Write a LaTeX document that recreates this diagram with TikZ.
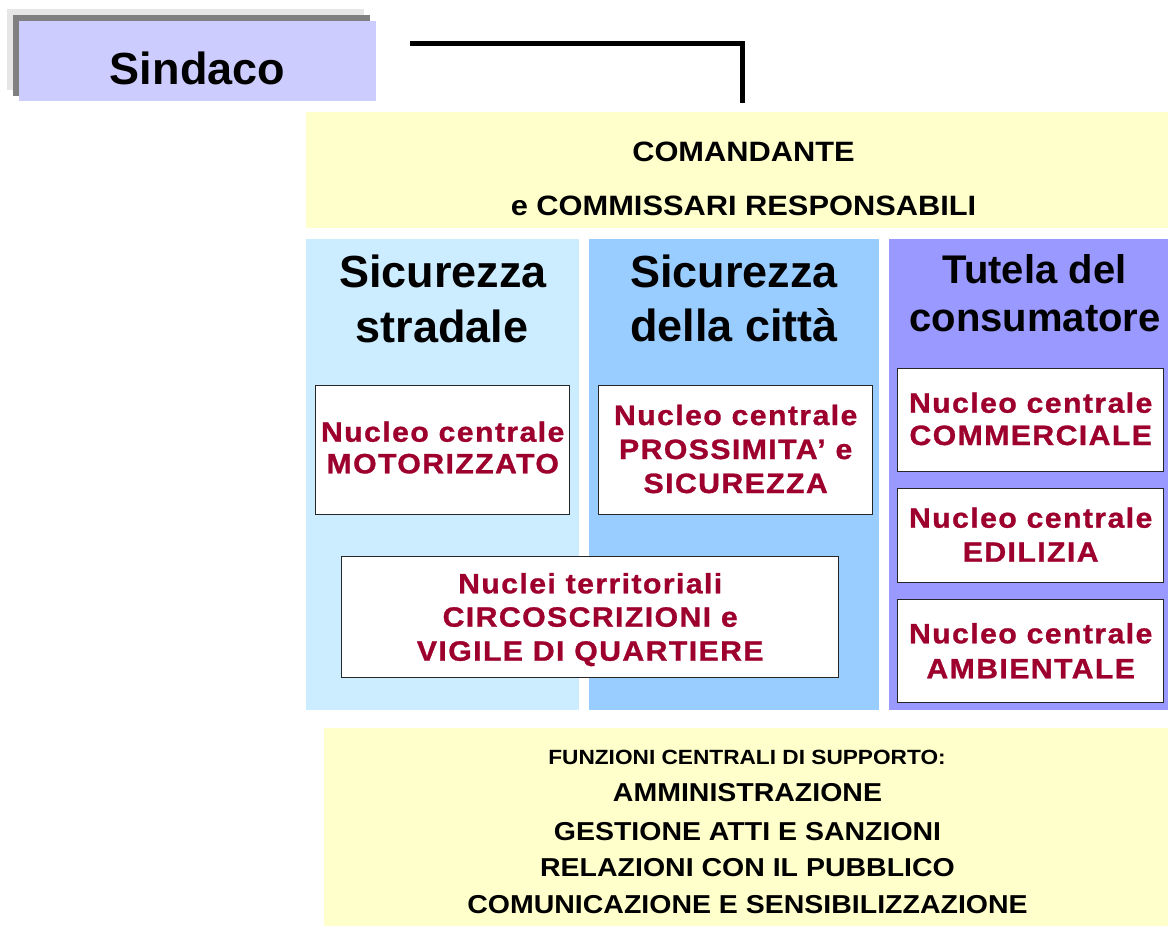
\documentclass[tikz,border=0pt]{standalone}
\usepackage{fontspec}
\setmainfont{Liberation Sans}
\newfontfamily\wideb{Liberation Sans Bold}[FakeStretch=1.1]
\newfontfamily\redb{Liberation Sans Bold}[FakeStretch=1.08,LetterSpace=5,FakeBold=1]
\definecolor{lav}{HTML}{CCCCFF}
\definecolor{shlight}{HTML}{E6E6E6}
\definecolor{shdark}{HTML}{808080}
\definecolor{ylw}{HTML}{FFFFCC}
\definecolor{cblue}{HTML}{CCECFF}
\definecolor{mblue}{HTML}{99CCFF}
\definecolor{purp}{HTML}{9999FF}
\definecolor{nred}{HTML}{9E002E}
\tikzset{
  panel/.style={draw=none, inner sep=0pt, outer sep=0pt, anchor=north west},
  wbox/.style={draw=black!85, line width=1pt, fill=white, inner sep=0pt, outer sep=0pt, anchor=north west},
  title/.style={anchor=base, inner sep=0pt, font=\bfseries\fontsize{45}{54}\selectfont},
  titlesm/.style={anchor=base, inner sep=0pt, font=\bfseries\fontsize{40}{48}\selectfont},
  redtxt/.style={anchor=base, inner sep=0pt, text=nred, xshift=0.7pt, font=\redb\fontsize{28}{30}\selectfont},
  ytxt/.style={anchor=base, inner sep=0pt, font=\wideb\fontsize{28}{32}\selectfont},
  ytxtb/.style={anchor=base, inner sep=0pt, font=\wideb\fontsize{25.9}{30}\selectfont},
  ytxts/.style={anchor=base, inner sep=0pt, font=\wideb\fontsize{20.6}{24}\selectfont},
}
\begin{document}
\begin{tikzpicture}[x=1pt,y=-1pt]
\useasboundingbox[fill=white] (0,0) rectangle (1168,926);
% Sindaco
\node[panel, fill=shlight, minimum width=357pt, minimum height=81pt] (sh1) at (7,9) {};
\node[panel, fill=shdark, minimum width=357pt, minimum height=81pt] (sh2) at (13,15) {};
\node[panel, fill=lav, minimum width=357pt, minimum height=80pt] (sind) at (19,21) {};
\node[title] (sindt) at (197.5,84.3) {Sindaco};
% line
\coordinate (l1) at (410,43.5);
\coordinate (l2) at (742.5,43.5);
\coordinate (l3) at (742.5,103);
\draw[line width=5.5pt] (l1) -- (l2) -- (l3);
% top yellow
\node[panel, fill=ylw, minimum width=862pt, minimum height=115.5pt] (cmd) at (306,112) {};
\node[ytxt] (cmd1) at (743.5,161.7) {COMANDANTE};
\node[ytxt] (cmd2) at (743.5,215) {e COMMISSARI RESPONSABILI};
% columns
\node[panel, fill=cblue, minimum width=272.7pt, minimum height=471pt] (col1) at (306,239) {};
\node[panel, fill=mblue, minimum width=289.5pt, minimum height=471pt] (col2) at (589,239) {};
\node[panel, fill=purp, minimum width=279pt, minimum height=471pt] (col3) at (889,239) {};
\node[title] (t1a) at (443,287) {Sicurezza};
\node[title] (t1b) at (442,342.5) {stradale};
\node[title] (t2a) at (734,287) {Sicurezza};
\node[title] (t2b) at (734,341.7) {della città};
\node[titlesm] (t3a) at (1034.5,283.3) {Tutela del};
\node[titlesm] (t3b) at (1035,331.7) {consumatore};
% boxes
\node[wbox, minimum width=254pt, minimum height=129pt] (mot) at (315,385) {};
\node[redtxt] (mot1) at (442,441.7) {Nucleo centrale};
\node[redtxt] (mot2) at (442,473.3) {MOTORIZZATO};
\node[wbox, minimum width=274pt, minimum height=129pt] (pro) at (598,385) {};
\node[redtxt] (pro1) at (735,425) {Nucleo centrale};
\node[redtxt] (pro2) at (735,459) {PROSSIMITA’ e};
\node[redtxt] (pro3) at (735,493) {SICUREZZA};
\node[wbox, minimum width=266pt, minimum height=103pt] (com) at (897,368) {};
\node[redtxt] (com1) at (1030,412.7) {Nucleo centrale};
\node[redtxt] (com2) at (1030,445) {COMMERCIALE};
\node[wbox, minimum width=266pt, minimum height=94pt] (edi) at (897,488) {};
\node[redtxt] (edi1) at (1030,527.7) {Nucleo centrale};
\node[redtxt] (edi2) at (1030,561.7) {EDILIZIA};
\node[wbox, minimum width=266pt, minimum height=103pt] (amb) at (897,599) {};
\node[redtxt] (amb1) at (1030,643.3) {Nucleo centrale};
\node[redtxt] (amb2) at (1030,678.3) {AMBIENTALE};
\node[wbox, minimum width=497pt, minimum height=121pt] (ter) at (341,556) {};
\node[redtxt] (ter1) at (589.5,593.3) {Nuclei territoriali};
\node[redtxt] (ter2) at (589.5,626.7) {CIRCOSCRIZIONI e};
\node[redtxt] (ter3) at (589.5,660.7) {VIGILE DI QUARTIERE};
% bottom yellow
\node[panel, fill=ylw, minimum width=844pt, minimum height=198pt] (sup) at (324,728) {};
\node[ytxts] (sup0) at (747,764) {FUNZIONI CENTRALI DI SUPPORTO:};
\node[ytxtb] (sup1) at (747.5,801.7) {AMMINISTRAZIONE};
\node[ytxtb] (sup2) at (747.5,840) {GESTIONE ATTI E SANZIONI};
\node[ytxtb] (sup3) at (747.5,876.7) {RELAZIONI CON IL PUBBLICO};
\node[ytxtb] (sup4) at (747.5,913.3) {COMUNICAZIONE E SENSIBILIZZAZIONE};
\end{tikzpicture}
\end{document}
